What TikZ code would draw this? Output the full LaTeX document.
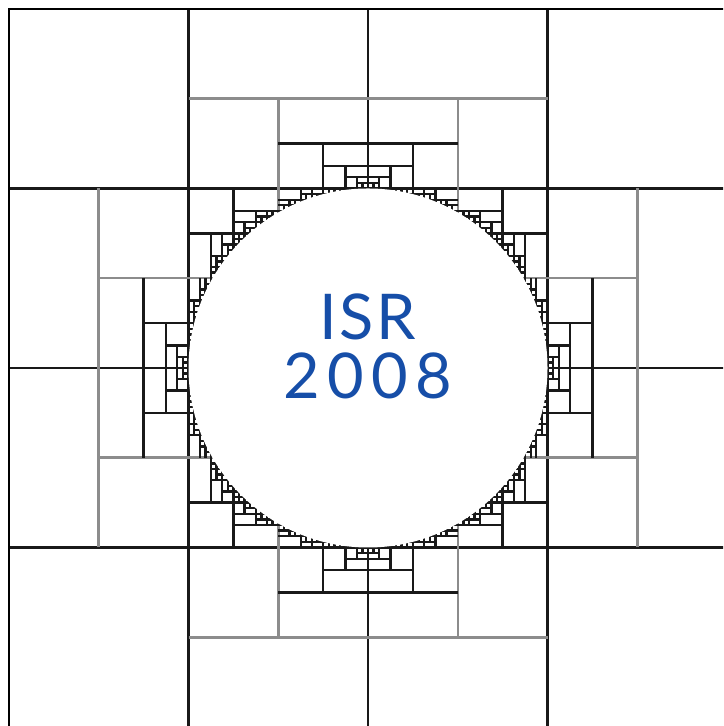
\documentclass[tikz,border=0pt]{standalone}
\usepackage{fontspec}
\newfontfamily\isrfont{Lato}
\usepackage{tikz}

\definecolor{isrblue}{RGB}{22,78,168}

\tikzset{
  frame/.style={black, line width=0.9pt},
  cut/.style={black!90, line width=0.75pt},
  cutgray/.style={black!45, line width=0.8pt},
  qtline/.style={cut},
  title/.style={text=isrblue, font=\isrfont\fontsize{20}{18.6}\selectfont, align=center, inner sep=0pt},
}

% does the cell (#1,#2) of size #3 meet the circle of radius 1 round (2,2)?
\newcommand\qthit[3]{%
  \pgfmathsetmacro\qa{max(#1-2,0,2-#1-#3)}%
  \pgfmathsetmacro\qb{max(#2-2,0,2-#2-#3)}%
  \pgfmathsetmacro\qc{max(abs(#1-2),abs(#1+#3-2))}%
  \pgfmathsetmacro\qd{max(abs(#2-2),abs(#2+#3-2))}%
  \pgfmathtruncatemacro\qtres{(\qa*\qa+\qb*\qb<=1.0001)*(\qc*\qc+\qd*\qd>=0.9999)}%
}

% one quadtree cell, lower left corner (#1,#2), size #3
\newcommand\qtcell[3]{%
  \begingroup
  \edef\cx{#1}\edef\cy{#2}\edef\cs{#3}%
  \qthit{\cx}{\cy}{\cs}%
  \ifnum\qtres=1 \ifdim\cs pt>0.06pt
    \ifdim\cs pt=1pt \tikzset{qtline/.style={cutgray}}\else\tikzset{qtline/.style={cut}}\fi
    \pgfmathsetmacro\hs{\cs/2}%
    \pgfmathsetmacro\xm{\cx+\hs}\pgfmathsetmacro\ym{\cy+\hs}%
    \pgfmathsetmacro\xb{\cx+\cs}\pgfmathsetmacro\yb{\cy+\cs}%
    \qthit{\cx}{\ym}{\hs}\let\hTL\qtres
    \qthit{\xm}{\ym}{\hs}\let\hTR\qtres
    \qthit{\cx}{\cy}{\hs}\let\hBL\qtres
    \qthit{\xm}{\cy}{\hs}\let\hBR\qtres
    % empty neighbours are merged
    \pgfmathtruncatemacro\mT{\hTL+\hTR==0}%
    \pgfmathtruncatemacro\mB{\hBL+\hBR==0}%
    \pgfmathtruncatemacro\mL{\hTL+\hBL==0}%
    \pgfmathtruncatemacro\mR{\hTR+\hBR==0}%
    % two merges sharing a quadrant: keep the one farther from the centre
    \pgfmathsetmacro\qh{\hs/2}%
    \pgfmathsetmacro\dT{(\xm-2)*(\xm-2)+(\ym+\qh-2)*(\ym+\qh-2)}%
    \pgfmathsetmacro\dB{(\xm-2)*(\xm-2)+(\ym-\qh-2)*(\ym-\qh-2)}%
    \pgfmathsetmacro\dL{(\xm-\qh-2)*(\xm-\qh-2)+(\ym-2)*(\ym-2)}%
    \pgfmathsetmacro\dR{(\xm+\qh-2)*(\xm+\qh-2)+(\ym-2)*(\ym-2)}%
    \pgfmathtruncatemacro\mL{\mL*(1-\mT*(\dT>=\dL))*(1-\mB*(\dB>=\dL))}%
    \pgfmathtruncatemacro\mR{\mR*(1-\mT*(\dT>=\dR))*(1-\mB*(\dB>=\dR))}%
    \pgfmathtruncatemacro\mT{\mT*(1-\mL)*(1-\mR)}%
    \pgfmathtruncatemacro\mB{\mB*(1-\mL)*(1-\mR)}%
    \ifnum\mT=0 \draw[qtline] (\xm,\ym) -- (\xm,\yb);\fi
    \ifnum\mB=0 \draw[qtline] (\xm,\cy) -- (\xm,\ym);\fi
    \ifnum\mL=0 \draw[qtline] (\cx,\ym) -- (\xm,\ym);\fi
    \ifnum\mR=0 \draw[qtline] (\xm,\ym) -- (\xb,\ym);\fi
    \qtcell{\cx}{\ym}{\hs}\qtcell{\xm}{\ym}{\hs}%
    \qtcell{\cx}{\cy}{\hs}\qtcell{\xm}{\cy}{\hs}%
  \fi\fi
  \endgroup}

\begin{document}
\begin{tikzpicture}[x=2cm, y=2cm]
  \useasboundingbox (-0.0501,0.0056) rectangle (3.9777,4.0501);
  \clip (-0.0501,0.0056) rectangle (3.9777,4.0501);
  \fill[white] (-0.0501,0.0056) rectangle (3.9777,4.0501);
  % quadtree round the circle
  \qtcell{0}{0}{4}
  \draw[frame] (0,0) rectangle (4,4);
  % hole
  \fill[white] (2,2) circle (1);
  \node[title] (label) at (2.0,2.12)
    {{\addfontfeature{LetterSpace=4}ISR}\\{\addfontfeature{LetterSpace=12}2008}};
\end{tikzpicture}
\end{document}
